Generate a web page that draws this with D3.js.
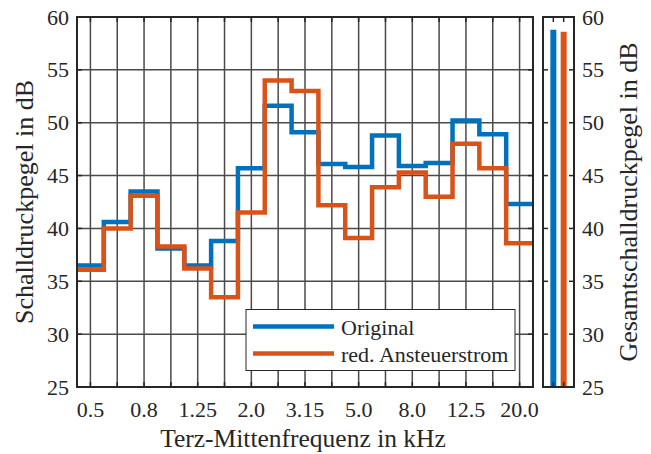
<!DOCTYPE html>
<html>
<head>
<meta charset="utf-8">
<script src="https://cdn.jsdelivr.net/npm/d3@7"></script>
<style>
  html, body { margin: 0; padding: 0; background: #fff; }
  svg { display: block; }
</style>
</head>
<body>
<svg id="chart" width="651" height="454"></svg>
<script>
// ---- data ----
const bands = ["0.5","0.63","0.8","1.0","1.25","1.6","2.0","2.5","3.15","4.0","5.0","6.3","8.0","10.0","12.5","16.0","20.0"];
const tickLabels = ["0.5","0.8","1.25","2.0","3.15","5.0","8.0","12.5","20.0"];
const original = [36.5, 40.6, 43.5, 38.1, 36.5, 38.8, 45.7, 51.6, 49.1, 46.1, 45.8, 48.8, 45.9, 46.2, 50.2, 48.9, 42.3];
const reduced  = [36.1, 40.0, 43.1, 38.3, 36.2, 33.5, 41.5, 54.0, 53.0, 42.2, 39.1, 43.9, 45.3, 43.0, 48.0, 45.7, 38.6];
const totalNames = ["Original", "red. Ansteuerstrom"];
const totals = [58.8, 58.6];
const yTicks = [25, 30, 35, 40, 45, 50, 55, 60];
const seriesColors = ["#0072BD", "#D95319"];

// ---- layout ----
const FONT = "Liberation Serif";
const svg = d3.select("#chart");
const L = 77, R = 533, T = 17, B = 387;
const L2 = 543, R2 = 574;
const axisColor = "#262626";
const gridColor = "#4a4a4a";
const fs = 22;

const x = d3.scaleBand().domain(bands).range([L, R]).paddingInner(0).paddingOuter(0);
const y = d3.scaleLinear().domain([25, 60]).range([B, T]);
const x2 = d3.scaleLinear().domain([0, 3]).range([L2, R2]);

function styleText(sel, size) {
  sel.attr("font-family", FONT).attr("font-size", size).attr("fill", axisColor);
}

const g = svg.append("g");
g.append("g").selectAll("line").data(bands).join("line")
  .attr("x1", d => x(d) + x.bandwidth() / 2).attr("x2", d => x(d) + x.bandwidth() / 2)
  .attr("y1", T).attr("y2", B)
  .attr("stroke", gridColor).attr("stroke-width", 1.5);
g.append("g").selectAll("line").data(yTicks).join("line")
  .attr("x1", L).attr("x2", R)
  .attr("y1", d => y(d)).attr("y2", d => y(d))
  .attr("stroke", gridColor).attr("stroke-width", 1.5);

const tl = 5;
const tickG = g.append("g").attr("stroke", axisColor).attr("stroke-width", 1.5);
yTicks.forEach(v => {
  tickG.append("line").attr("x1", L).attr("x2", L + tl).attr("y1", y(v)).attr("y2", y(v));
  tickG.append("line").attr("x1", R).attr("x2", R - tl).attr("y1", y(v)).attr("y2", y(v));
});
bands.forEach(b => {
  const cx = x(b) + x.bandwidth() / 2;
  tickG.append("line").attr("x1", cx).attr("x2", cx).attr("y1", B).attr("y2", B - tl);
  tickG.append("line").attr("x1", cx).attr("x2", cx).attr("y1", T).attr("y2", T + tl);
});

function stairPoints(vals) {
  const pts = vals.map((v, i) => [x(bands[i]), y(v)]);
  const last = bands[bands.length - 1];
  pts.push([x(last) + x.bandwidth(), y(vals[vals.length - 1])]);
  return pts;
}
const stair = d3.line().curve(d3.curveStepAfter);
[original, reduced].forEach((vals, i) => {
  g.append("path")
    .attr("d", stair(stairPoints(vals)))
    .attr("fill", "none")
    .attr("stroke", seriesColors[i])
    .attr("stroke-width", 4.5)
    .attr("stroke-linejoin", "miter");
});

g.append("rect").attr("x", L).attr("y", T).attr("width", R - L).attr("height", B - T)
  .attr("fill", "none").attr("stroke", axisColor).attr("stroke-width", 2);

const xAxis = d3.axisBottom(x).tickValues(tickLabels).tickSize(0).tickPadding(0);
const xa = svg.append("g").attr("transform", `translate(0,${B})`).call(xAxis);
xa.select(".domain").remove();
xa.selectAll("text").attr("y", 30).attr("dy", 0).call(styleText, fs);

const yAxis = d3.axisLeft(y).tickValues(yTicks).tickSize(0).tickPadding(8);
const ya = svg.append("g").attr("transform", `translate(${L},0)`).call(yAxis);
ya.select(".domain").remove();
ya.selectAll("text").call(styleText, fs);

svg.append("text").attr("x", (L + R) / 2 - 2).attr("y", 447).attr("text-anchor", "middle")
  .call(styleText, 25.5).text("Terz-Mittenfrequenz in kHz");
svg.append("text").attr("transform", `translate(33,${(T + B) / 2}) rotate(-90)`)
  .attr("text-anchor", "middle").call(styleText, 26).text("Schalldruckpegel in dB");

const lg = svg.append("g");
lg.append("rect").attr("x", 246).attr("y", 309.5).attr("width", 269).attr("height", 61)
  .attr("fill", "#fff").attr("stroke", axisColor).attr("stroke-width", 1);
totalNames.forEach((n, i) => {
  const ly = 326.5 + i * 27;
  lg.append("line").attr("x1", 253).attr("x2", 334).attr("y1", ly).attr("y2", ly)
    .attr("stroke", seriesColors[i]).attr("stroke-width", 4.5);
  lg.append("text").attr("x", 341).attr("y", ly + 8).call(styleText, fs).text(n);
});

const g2 = svg.append("g");
totals.forEach((v, i) => {
  g2.append("line").attr("x1", x2(i + 1)).attr("x2", x2(i + 1))
    .attr("y1", y(25)).attr("y2", y(v))
    .attr("stroke", seriesColors[i]).attr("stroke-width", 6);
});
const t2 = g2.append("g").attr("stroke", axisColor).attr("stroke-width", 1.5);
yTicks.forEach(v => {
  t2.append("line").attr("x1", L2).attr("x2", L2 + tl).attr("y1", y(v)).attr("y2", y(v));
  t2.append("line").attr("x1", R2).attr("x2", R2 - tl).attr("y1", y(v)).attr("y2", y(v));
});
[1, 2].forEach(p => {
  t2.append("line").attr("x1", x2(p)).attr("x2", x2(p)).attr("y1", T).attr("y2", T + tl);
  t2.append("line").attr("x1", x2(p)).attr("x2", x2(p)).attr("y1", B).attr("y2", B - tl);
});
g2.append("rect").attr("x", L2).attr("y", T).attr("width", R2 - L2).attr("height", B - T)
  .attr("fill", "none").attr("stroke", axisColor).attr("stroke-width", 2);

const yAxisR = d3.axisRight(y).tickValues(yTicks).tickSize(0).tickPadding(8);
const yr = svg.append("g").attr("transform", `translate(${R2},0)`).call(yAxisR);
yr.select(".domain").remove();
yr.selectAll("text").call(styleText, fs);

svg.append("text").attr("transform", `translate(637,${(T + B) / 2}) rotate(-90)`)
  .attr("text-anchor", "middle").call(styleText, 26).text("Gesamtschalldruckpegel in dB");
</script>
</body>
</html>
